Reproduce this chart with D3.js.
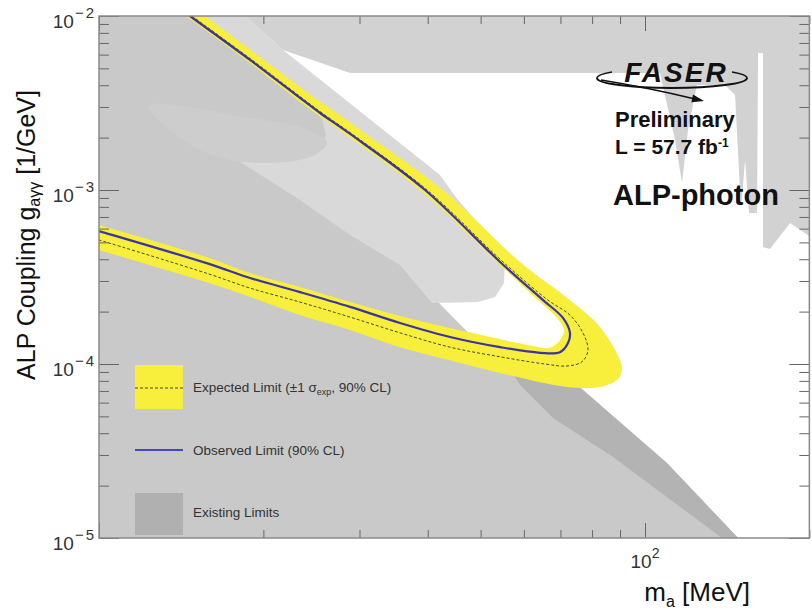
<!DOCTYPE html>
<html>
<head>
<meta charset="utf-8">
<script src="https://cdn.jsdelivr.net/npm/d3@7"></script>
<style>
  body { margin: 0; background: #fff; }
  svg { display: block; }
  text { font-family: "Liberation Sans", Arial, Helvetica, sans-serif; }
</style>
</head>
<body>
<svg id="chart" width="812" height="613"></svg>
<script>
// ---------------- data (mass in MeV, coupling in 1/GeV) ----------------
const massDomain = [10, 200];
const couplingDomain = [1e-5, 1e-2];

// observed 90% CL limit (upper branch -> tip -> lower branch)
const observedMass = [13.72, 14.68, 18.91, 23.34, 25.40, 28.83, 39.55, 54.27, 65.05, 70.76, 72.87,
  72.27, 69.87, 64.23, 54.27, 43.94, 35.59, 28.83, 23.34, 18.91, 15.90, 10.0, 9.43];
const observedCoupling = [1.172e-2, 1.0e-2, 5.59e-3, 3.38e-3, 2.77e-3, 2.10e-3, 1.0e-3, 3.86e-4,
  2.33e-4, 1.84e-4, 1.51e-4, 1.32e-4, 1.17e-4, 1.16e-4, 1.25e-4, 1.43e-4, 1.72e-4, 2.13e-4, 2.59e-4,
  3.12e-4, 3.76e-4, 5.81e-4, 6.13e-4];

// expected (median) limit
const expectedMass = [13.84, 14.80, 19.06, 23.54, 25.61, 29.06, 39.88, 54.95, 66.42, 72.87, 76.98,
  78.63, 76.66, 71.96, 65.59, 54.27, 43.94, 35.59, 28.83, 23.34, 18.91, 15.90, 10.0, 9.43];
const expectedCoupling = [1.172e-2, 1.0e-2, 5.59e-3, 3.38e-3, 2.77e-3, 2.10e-3, 1.0e-3, 3.86e-4,
  2.33e-4, 1.91e-4, 1.51e-4, 1.20e-4, 1.03e-4, 9.74e-5, 1.00e-4, 1.10e-4, 1.25e-4, 1.51e-4, 1.86e-4,
  2.27e-4, 2.73e-4, 3.29e-4, 5.16e-4, 5.44e-4];

// +-1 sigma expected band: outer edge and inner edge
const bandOuterMass = [14.62, 15.64, 20.06, 24.87, 27.29, 30.83, 42.66, 59.03, 72.89, 82.72, 90.01,
  90.77, 88.88, 82.72, 71.97, 54.27, 43.94, 35.59, 28.83, 23.34, 18.91, 15.90, 10.0, 9.43];
const bandOuterCoupling = [1.172e-2, 1.0e-2, 5.59e-3, 3.38e-3, 2.77e-3, 2.10e-3, 1.0e-3, 3.86e-4,
  2.33e-4, 1.63e-4, 1.05e-4, 9.24e-5, 8.09e-5, 7.38e-5, 7.38e-5, 8.88e-5, 1.05e-4, 1.25e-4, 1.57e-4,
  1.91e-4, 2.43e-4, 2.92e-4, 4.52e-4, 4.77e-4];
const bandInnerMass = [9.43, 10.0, 15.90, 18.91, 23.34, 28.83, 35.59, 47.21, 62.36, 66.99, 69.88, 71.07,
  69.00, 63.69, 53.58, 38.72, 28.22, 24.87, 22.86, 18.59, 14.43, 13.49];
const bandInnerCoupling = [6.64e-4, 6.29e-4, 4.07e-4, 3.33e-4, 2.77e-4, 2.27e-4, 1.89e-4, 1.53e-4, 1.27e-4,
  1.24e-4, 1.37e-4, 1.57e-4, 1.84e-4, 2.33e-4, 3.86e-4, 1.0e-3, 2.10e-3, 2.77e-3, 3.38e-3,
  5.59e-3, 1.0e-2, 1.172e-2];

// existing limits (several overlapping excluded regions)
const lowerRegionMass = [10, 15.31, 19.72, 24.35, 26.49, 35.59, 41.78, 53.13, 65.59, 74.43, 109.7, 148.1, 10];
const lowerRegionCoupling = [1e-2, 1e-2, 5.587e-3, 3.379e-3, 2.525e-3, 4.830e-4, 2.271e-4, 1.054e-4,
  8.995e-5, 7.777e-5, 2.698e-5, 1e-5, 1e-5];

const darkBandMass = [55.42, 74.43, 109.7, 148.1, 138.4, 87.39, 67.85, 59.03];
const darkBandCoupling = [1.027e-4, 7.777e-5, 2.698e-5, 1e-5, 1e-5, 2.920e-5, 4.894e-5, 7.572e-5];

const wedgeMass = [14.87, 18.51, 21.73, 42.12, 45.45, 49.86, 55.42, 55.19, 53.13, 49.44, 40.73, 35.59,
  28.83, 23.34, 18.13, 22.38, 25.18, 26.05, 25.40, 23.34, 18.91];
const wedgeCoupling = [1e-2, 1e-2, 6.375e-3, 1.220e-3, 8.761e-4, 6.293e-4, 4.066e-4, 2.920e-4, 2.427e-4,
  2.271e-4, 2.241e-4, 3.706e-4, 5.513e-4, 8.761e-4, 1.448e-3, 1.527e-3, 1.698e-3, 2.071e-3, 2.770e-3,
  3.379e-3, 5.587e-3];

const tongueMass = [12.35, 18.91, 23.94, 26.16, 24.87, 19.72, 15.31];
const tongueCoupling = [3.039e-3, 2.593e-3, 2.241e-3, 1.887e-3, 1.589e-3, 1.429e-3, 1.698e-3];

const topBandMass = [18.51, 205, 205, 184.4, 169.4, 164.5, 164.5, 161.1, 160.4, 155.1, 152.5, 149.9,
  146.2, 140.1, 124.5, 119.9, 116.9, 113.5, 106.5, 28.83, 21.73];
const topBandCoupling = [1e-2, 1e-2, 5.16e-4, 6.461e-4, 4.582e-4, 4.704e-4, 6.127e-3, 6.127e-3, 7.375e-4,
  7.375e-4, 1.487e-3, 7.673e-4, 3.516e-3, 4.013e-3, 4.013e-3, 2.212e-3, 1.097e-3, 1.938e-3, 4.704e-3,
  4.704e-3, 6.375e-3];

// axis ticks and labels
const yMajorTicks = [1e-5, 1e-4, 1e-3, 1e-2];
const yTickExponents = ["\u22125", "\u22124", "\u22123", "\u22122"];
const xMajorTicks = [10, 100];
const xLabelTicks = [100];
const xTickExponents = ["2"];

const legendLabels = ["Expected Limit (\u00b11 \u03c3", "exp", ", 90% CL)", "Observed Limit (90% CL)", "Existing Limits"];

// ---------------- layout ----------------
const svg = d3.select("#chart");
const plotL = 99, plotT = 16, plotB = 538;
const plotR = plotL + 546 * Math.log10(massDomain[1] / massDomain[0]);

const x = d3.scaleLog().domain(massDomain).range([plotL, plotR]);
const y = d3.scaleLog().domain(couplingDomain).range([plotB, plotT]);

const zip = (ms, gs) => ms.map((m, i) => [m, gs[i]]);

svg.append("defs").append("clipPath").attr("id", "plotClip")
  .append("rect").attr("x", plotL).attr("y", plotT).attr("width", plotR - plotL).attr("height", plotB - plotT);

const area = svg.append("g").attr("clip-path", "url(#plotClip)");
area.append("rect").attr("x", plotL).attr("y", plotT).attr("width", plotR - plotL).attr("height", plotB - plotT)
  .attr("fill", "#ffffff");

const poly = d3.line().x(d => x(d[0])).y(d => y(d[1])).curve(d3.curveLinearClosed);
const smoothPoly = d3.line().x(d => x(d[0])).y(d => y(d[1])).curve(d3.curveCatmullRomClosed.alpha(0.5));

// existing limits
area.append("path").attr("d", poly(zip(lowerRegionMass, lowerRegionCoupling))).attr("fill", "#c9c9c9");
area.append("path").attr("d", poly(zip(darkBandMass, darkBandCoupling))).attr("fill", "#b3b3b3");
area.append("path").attr("d", poly(zip(wedgeMass, wedgeCoupling))).attr("fill", "#d9d9d9");
area.append("path").attr("d", smoothPoly(zip(tongueMass, tongueCoupling))).attr("fill", "#cdcdcd");
area.append("path").attr("d", poly(zip(topBandMass, topBandCoupling))).attr("fill", "#d2d2d2");

// expected +-1 sigma band
const smooth = d3.line().x(d => x(d[0])).y(d => y(d[1])).curve(d3.curveCatmullRom.alpha(0.5));
const bandPts = zip(bandOuterMass, bandOuterCoupling).concat(zip(bandInnerMass, bandInnerCoupling));
area.append("path").attr("d", smooth(bandPts) + "Z").attr("fill", "#f7ef3c");

// expected median
area.append("path").attr("d", smooth(zip(expectedMass, expectedCoupling)))
  .attr("fill", "none").attr("stroke", "#4a4a2a").attr("stroke-width", 1).attr("stroke-dasharray", "3,2");

// observed
area.append("path").attr("d", smooth(zip(observedMass, observedCoupling)))
  .attr("fill", "none").attr("stroke", "#3b33a6").attr("stroke-width", 2.2);

// ---------------- frame & ticks ----------------
const yMinor = y.ticks().filter(v => !yMajorTicks.some(t => Math.abs(t - v) / t < 1e-6));
const xMinor = x.ticks().filter(v => !xMajorTicks.some(t => Math.abs(t - v) / t < 1e-6));

function tickSet(axis, values, size, tx, ty) {
  svg.append("g").attr("transform", `translate(${tx},${ty})`)
    .call(axis.tickValues(values).tickSize(size).tickFormat(""))
    .call(g => g.select(".domain").remove())
    .call(g => g.selectAll("line").attr("stroke", "#666").attr("stroke-width", 1));
}
tickSet(d3.axisRight(y), yMajorTicks, 20, plotL, 0);
tickSet(d3.axisRight(y), yMinor, 10, plotL, 0);
tickSet(d3.axisLeft(y), yMajorTicks, 20, plotR, 0);
tickSet(d3.axisLeft(y), yMinor, 10, plotR, 0);
tickSet(d3.axisTop(x), xMajorTicks, 15, 0, plotB);
tickSet(d3.axisTop(x), xMinor, 8, 0, plotB);
tickSet(d3.axisBottom(x), xMajorTicks, 15, 0, plotT);
tickSet(d3.axisBottom(x), xMinor, 8, 0, plotT);

svg.append("rect").attr("x", plotL).attr("y", plotT).attr("width", plotR - plotL).attr("height", plotB - plotT)
  .attr("fill", "none").attr("stroke", "#8a8a8a").attr("stroke-width", 1.5);

// tick labels
yMajorTicks.forEach((v, i) => {
  const t = svg.append("text").attr("x", 96).attr("y", y(v) + 12).attr("text-anchor", "end")
    .attr("font-size", 19).attr("fill", "#333");
  t.append("tspan").text("10");
  t.append("tspan").attr("dy", -10).attr("dx", 1).attr("font-size", 15).attr("letter-spacing", 2)
    .text(yTickExponents[i]);
});
xLabelTicks.forEach((v, i) => {
  const t = svg.append("text").attr("x", x(v)).attr("y", 568).attr("text-anchor", "middle")
    .attr("font-size", 19).attr("fill", "#333");
  t.append("tspan").text("10");
  t.append("tspan").attr("dy", -10).attr("font-size", 14).text(xTickExponents[i]);
});

// axis titles
const yTitle = svg.append("text").attr("transform", "translate(35,235) rotate(-90)")
  .attr("text-anchor", "middle").attr("font-size", 25).attr("fill", "#111");
yTitle.append("tspan").text("ALP Coupling g");
yTitle.append("tspan").attr("font-size", 16).attr("dy", 5).text("a\u03b3\u03b3");
yTitle.append("tspan").attr("dy", -5).text(" [1/GeV]");

const xTitle = svg.append("text").attr("x", 750).attr("y", 601).attr("text-anchor", "end")
  .attr("font-size", 26).attr("fill", "#111");
xTitle.append("tspan").text("m");
xTitle.append("tspan").attr("font-size", 16).attr("dy", 6).text("a");
xTitle.append("tspan").attr("dy", -6).text(" [MeV]");

// ---------------- legend ----------------
svg.append("rect").attr("x", 135).attr("y", 365).attr("width", 48).attr("height", 44).attr("fill", "#f7ef3c");
svg.append("line").attr("x1", 135).attr("x2", 183).attr("y1", 388).attr("y2", 388)
  .attr("stroke", "#4a4a2a").attr("stroke-width", 1).attr("stroke-dasharray", "3,2");
svg.append("line").attr("x1", 135).attr("x2", 183).attr("y1", 450).attr("y2", 450)
  .attr("stroke", "#4545c8").attr("stroke-width", 2);
svg.append("rect").attr("x", 135).attr("y", 493).attr("width", 48).attr("height", 42).attr("fill", "#b0b0b0");

const le = svg.append("text").attr("x", 193).attr("y", 392).attr("font-size", 13.5).attr("fill", "#333");
le.append("tspan").text(legendLabels[0]);
le.append("tspan").attr("font-size", 9).attr("dy", 3).text(legendLabels[1]);
le.append("tspan").attr("dy", -3).text(legendLabels[2]);
svg.append("text").attr("x", 193).attr("y", 455).attr("font-size", 13.5).attr("fill", "#333").text(legendLabels[3]);
svg.append("text").attr("x", 193).attr("y", 517).attr("font-size", 13.5).attr("fill", "#333").text(legendLabels[4]);

// ---------------- experiment logo & labels ----------------
const logo = svg.append("g");
logo.append("path").attr("d", "M597,78 A75,10 0 0 0 747,78").attr("fill", "none").attr("stroke", "#111").attr("stroke-width", 2);
logo.append("path").attr("d", "M597,78 A75,10 0 0 1 612,72").attr("fill", "none").attr("stroke", "#111").attr("stroke-width", 1.5);
logo.append("path").attr("d", "M747,78 A75,10 0 0 0 732,72").attr("fill", "none").attr("stroke", "#111").attr("stroke-width", 1.5);
logo.append("path").attr("d", "M601,80 Q650,88 695,99").attr("fill", "none").attr("stroke", "#111").attr("stroke-width", 1.5);
logo.append("path").attr("d", "M704,101 L693,94.4 L691.4,102.2 Z").attr("fill", "#111");
logo.append("text").attr("x", 676).attr("y", 82).attr("text-anchor", "middle")
  .attr("font-size", 28).attr("font-weight", "bold").attr("font-style", "italic").attr("letter-spacing", 2)
  .attr("fill", "#111").text("FASER");

svg.append("text").attr("x", 615).attr("y", 127).attr("font-size", 22).attr("font-weight", "bold")
  .attr("fill", "#111").text("Preliminary");
const lumi = svg.append("text").attr("x", 615).attr("y", 154).attr("font-size", 21).attr("font-weight", "bold")
  .attr("fill", "#111");
lumi.append("tspan").text("L = 57.7 fb");
lumi.append("tspan").attr("dy", -7).attr("font-size", 12).text("-1");

svg.append("text").attr("x", 613).attr("y", 205).attr("font-size", 29).attr("font-weight", "bold")
  .attr("fill", "#111").text("ALP-photon");
</script>
</body>
</html>
